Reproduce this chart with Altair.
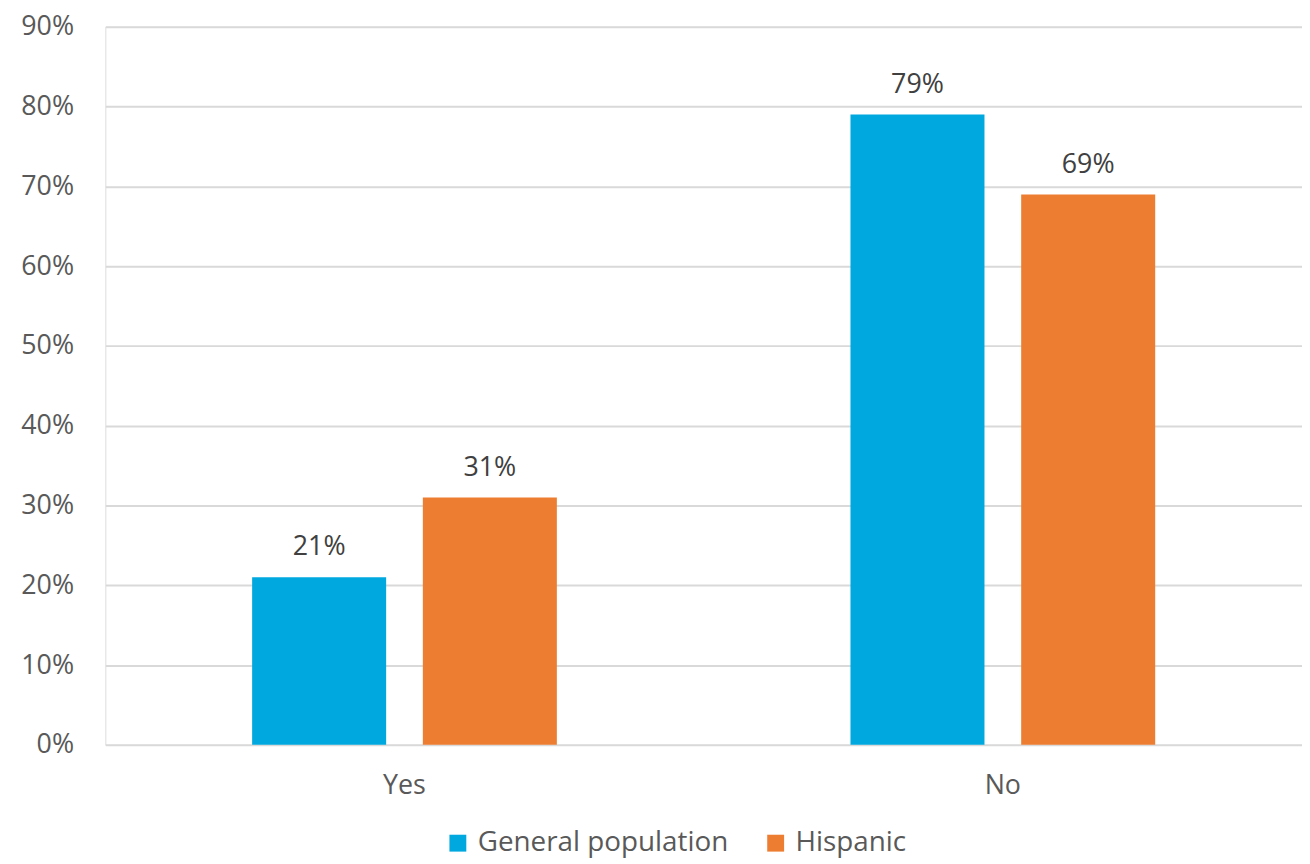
import altair as alt
import pandas as pd

categories = ["Yes", "No"]
series = ["General population", "Hispanic"]
general_population = [0.21, 0.79]
hispanic = [0.31, 0.69]
colors = ["#00A8E0", "#ED7D31"]

rows = []
for i, c in enumerate(categories):
    rows.append({"answer": c, "group": series[0], "value": general_population[i]})
    rows.append({"answer": c, "group": series[1], "value": hispanic[i]})
df = pd.DataFrame(rows)

FONT = "Open Sans"
FS = 27

x = alt.X("answer:N", sort=categories, title=None,
          scale=alt.Scale(paddingInner=0, paddingOuter=0),
          axis=alt.Axis(labelAngle=0, domain=False, ticks=False, labelPadding=28,
                        labelFontSize=FS, labelColor="#595959", labelFont=FONT))
xoff = alt.XOffset("group:N", sort=series,
                   scale=alt.Scale(paddingInner=0.215, paddingOuter=0.86))
y = alt.Y("value:Q", title=None,
          scale=alt.Scale(domain=[0, 0.9], nice=False),
          axis=alt.Axis(format=".0%", values=[i / 10 for i in range(10)], domain=False,
                        ticks=False, labelPadding=32, labelFontSize=FS,
                        labelColor="#595959", labelFont=FONT,
                        gridColor="#D9D9D9", gridWidth=2))
color = alt.Color("group:N", sort=series,
                  scale=alt.Scale(domain=series, range=colors),
                  legend=alt.Legend(title=None, orient="none", legendX=341, legendY=808,
                                    direction="horizontal",
                                    symbolType="square", symbolSize=289, symbolStrokeWidth=0,
                                    labelFontSize=28, labelColor="#595959", labelFont=FONT,
                                    labelLimit=600, columnPadding=33, labelOffset=6))

base = alt.Chart(df).encode(x=x, xOffset=xoff, y=y)
bars = base.mark_bar().encode(color=color)
labels = base.mark_text(dy=-30, fontSize=FS, color="#404040", font=FONT).encode(
    text=alt.Text("value:Q", format=".0%"))

chart = (bars + labels).properties(
    width=1205, height=723,
    autosize=alt.AutoSizeParams(type="none"),
    padding={"left": 98, "top": 16, "right": 0, "bottom": 117},
).configure_view(stroke=None).configure(background="white")

chart.save("out.html", embed_options={"renderer": "svg", "actions": False})
